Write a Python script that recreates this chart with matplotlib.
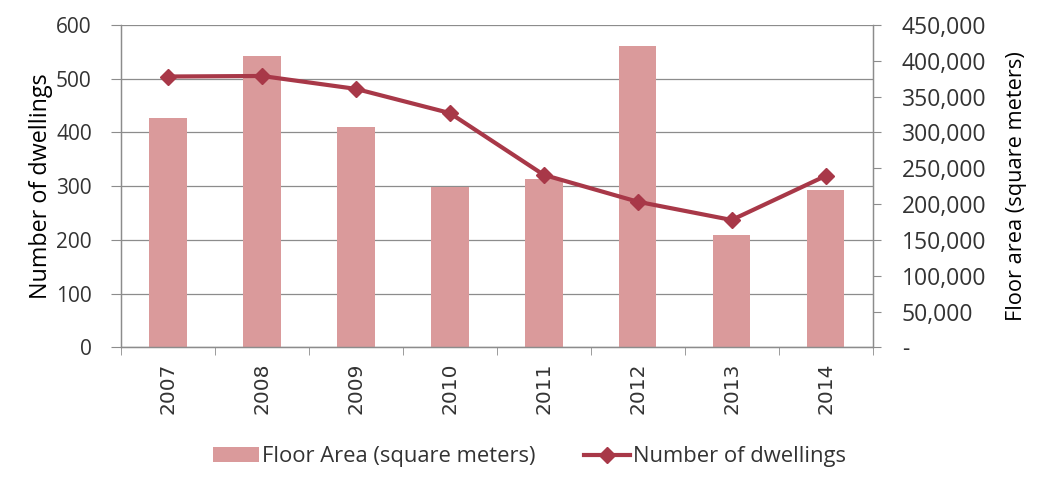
import numpy as np
import matplotlib.pyplot as plt
from matplotlib.ticker import FuncFormatter, MultipleLocator

years = ['2007', '2008', '2009', '2010', '2011', '2012', '2013', '2014']
floor_area = [320000, 407000, 308000, 224000, 234500, 421000, 157000, 219500]
dwellings = [504, 505, 481, 436, 321, 271, 237, 319]

bar_color = '#DA9A9B'
line_color = '#A83848'
grid_color = '#8C8C8C'

plt.rcParams['font.family'] = ['Open Sans', 'DejaVu Sans']
plt.rcParams['font.size'] = 15
plt.rcParams['text.color'] = '#333333'
plt.rcParams['ytick.color'] = '#333333'

fig = plt.figure(figsize=(10.4, 4.87), dpi=100)
ax = fig.add_axes([0.1163, 0.2868, 0.7227, 0.662])
ax2 = ax.twinx()

x = np.arange(len(years))

# bars on the right axis (floor area)
bars = ax2.bar(x, floor_area, width=0.4, color=bar_color, zorder=2,
               label='Floor Area (square meters)')
ax2.set_ylim(0, 450000)
ax2.yaxis.set_major_locator(MultipleLocator(50000))
ax2.yaxis.set_major_formatter(FuncFormatter(lambda v, p: '-' if v == 0 else f'{int(v):,}'))
ax2.set_ylabel('Floor area (square meters)', labelpad=14, fontsize=15.7)

# line on left axis (dwellings), drawn above bars
ax.set_zorder(ax2.get_zorder() + 1)
ax.patch.set_visible(False)
line, = ax.plot(x, dwellings, color=line_color, lw=3, marker='D', ms=8,
                mec=line_color, mfc=line_color, zorder=3, label='Number of dwellings')
ax.set_ylim(0, 600)
ax.yaxis.set_major_locator(MultipleLocator(100))
ax.set_ylabel('Number of dwellings', labelpad=2, fontsize=16.8)

# horizontal gridlines sit behind the bars
ax2.set_axisbelow(True)
for v in range(0, 601, 100):
    ax2.axhline(v * 750, color=grid_color, lw=0.9, zorder=0)

ax.set_xlim(-0.5, len(years) - 0.5)
ax.set_xticks(x)
ax.set_xticklabels(years, rotation=90, family='DejaVu Sans', fontsize=14.5, color='#333333')
ax.set_xticks(np.arange(-0.5, len(years)), minor=True)
ax.tick_params(axis='x', which='major', length=0, pad=11)
ax.tick_params(axis='x', which='minor', length=6, color=grid_color, direction='out')
ax.tick_params(axis='y', length=7, color=grid_color, direction='out', pad=14)
ax2.tick_params(axis='y', length=6, color=grid_color, direction='out', pad=15,
                labelsize=16.5)

for a in (ax, ax2):
    a.spines['top'].set_visible(False)
    for s in ('left', 'right', 'bottom'):
        a.spines[s].set_color(grid_color)
        a.spines[s].set_linewidth(0.9)

fig.legend(handles=[bars, line], loc='center', bbox_to_anchor=(0.509, 0.062),
           ncol=2, frameon=False, handlelength=2.1, columnspacing=2.2,
           handletextpad=0.15, fontsize=15.8)

fig.savefig('out.png', dpi=100)
